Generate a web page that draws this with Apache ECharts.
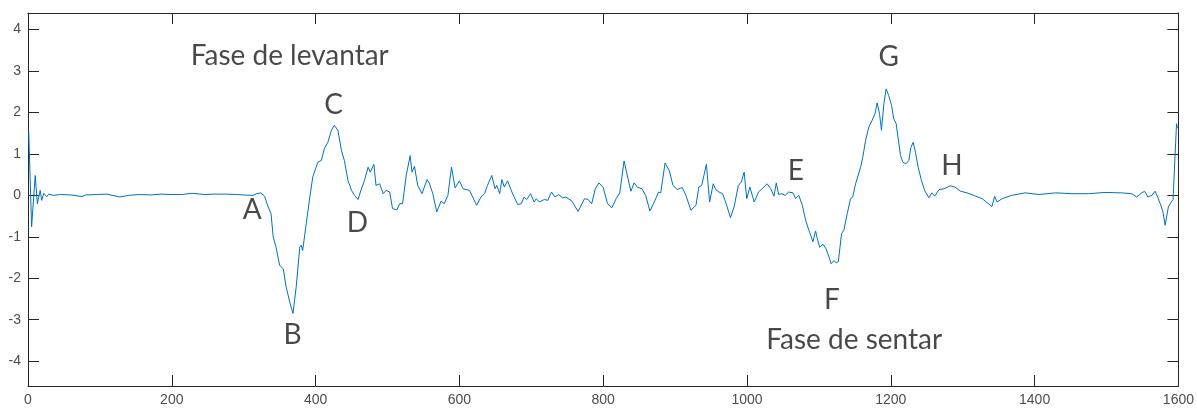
<!DOCTYPE html>
<html>
<head>
<meta charset="utf-8">
<script src="https://cdn.jsdelivr.net/npm/echarts@6/dist/echarts.min.js"></script>
<style>
html,body{margin:0;padding:0;background:#fff;}
#chart{width:1197px;height:410px;}
</style>
</head>
<body>
<div id="chart"></div>
<script>
// ---- data ----
const sampleX = [1,5,10,13,17,19,22,26,29,35,45,60,75,80,95,110,128,140,155,170,185,200,215,228,245,260,275,290,300,313,318,324,329,334,338,341,345,350,355,359,364,368.5,373,378,380,382,387,392,396,403,408,412,417,422,426,431,436,440,445,450,454,459,463,468,473,476,481,484,489,494,498,503,507,513,517,521,526,528,531.5,534,537.5,542,548,555,558,563,568.5,574.5,579,584,589,594,600,605,614,624,630,635,639,645,649.5,652,656,659,662.5,667,673,681,686,690,693.5,699,704,707,711,718,723,728,733,738,743.5,748,756.5,765,774,779,784,789,794,800,806,812,818,823,829,834,838.5,843,848,854,859,865,871,877,880,886,892,897,903,910,915,922,929,933,937,940,943.5,948,953,956.5,961,966,971,977,982,988,992,996,999.6,1004,1010,1016,1021,1028,1033,1037.5,1040.7,1044,1048,1053,1058,1064,1067.6,1072,1077,1081.5,1086,1091.7,1095.4,1097.7,1101,1105.6,1110,1114,1117,1121,1124,1127,1131.5,1134.7,1139.4,1144,1147,1151,1158,1161,1165,1169.4,1174,1178,1181,1184.3,1187,1190.3,1193.5,1197,1201,1204,1207.4,1210,1213.5,1216.7,1221,1225,1228,1231,1234.3,1238,1242.6,1247,1253,1257,1261,1267,1274,1283,1289,1297,1306,1318,1327,1335,1340.7,1344.4,1347.7,1355,1368,1387,1406,1429,1452,1475,1498,1521,1535,1542,1544.4,1549,1553,1557.4,1563,1567.6,1572,1578,1581.5,1586,1590,1592.5,1595.4,1597.4,1598.5];
const sampleY = [1.54,-0.76,0.48,-0.2,0.12,-0.12,0.05,-0.03,0.03,0.0,0.02,0.01,-0.03,0.01,0.02,0.03,-0.04,0.0,0.02,0.01,0.03,0.02,0.02,0.05,0.02,0.03,0.03,0.02,0.01,0.0,0.04,0.06,-0.02,-0.28,-0.44,-1.0,-1.25,-1.69,-1.77,-2.21,-2.57,-2.85,-2.21,-1.25,-1.2,-1.33,-0.68,-0.04,0.44,0.8,0.84,1.12,1.28,1.57,1.69,1.57,1.08,0.84,0.36,0.12,0.0,-0.1,0.12,0.36,0.68,0.56,0.75,0.24,0.28,0.04,0.12,0.08,-0.32,-0.35,-0.2,-0.2,0.48,0.52,0.96,0.56,0.7,0.24,0.04,0.38,0.3,0.04,-0.4,-0.14,-0.2,0.0,0.68,0.18,0.35,0.16,0.12,-0.24,-0.04,0.04,0.24,0.48,0.16,0.24,0.04,0.38,0.2,0.35,0.08,-0.22,-0.2,-0.04,-0.1,0.04,-0.16,-0.08,-0.16,-0.1,-0.12,0.08,-0.04,0.02,-0.06,-0.04,-0.14,-0.39,-0.08,-0.1,-0.2,0.16,0.3,0.19,-0.2,-0.3,-0.08,0.06,0.83,0.44,0.1,0.3,0.19,0.16,0.0,-0.38,-0.16,0.08,0.06,0.78,0.59,0.24,0.14,0.19,0.0,-0.36,-0.24,0.2,0.24,0.48,0.75,-0.16,0.28,0.14,0.08,0.04,-0.2,-0.54,-0.28,0.24,0.32,0.56,-0.08,0.2,-0.16,0.08,0.16,0.28,0.16,-0.02,0.3,0.02,0.04,0.0,0.08,0.06,-0.08,0.0,-0.24,-0.6,-0.84,-1.12,-0.86,-1.04,-1.25,-1.18,-1.29,-1.49,-1.65,-1.57,-1.63,-1.6,-0.92,-0.84,-0.44,-0.08,-0.04,0.28,0.68,0.92,1.33,1.65,1.81,1.97,2.23,1.97,1.57,2.21,2.57,2.41,2.17,1.85,1.73,1.4,0.96,0.8,0.76,0.84,1.16,1.28,1.04,0.68,0.36,0.12,-0.06,0.06,-0.02,0.14,0.16,0.23,0.2,0.1,0.06,-0.02,-0.08,-0.19,-0.27,-0.02,-0.16,-0.08,0.0,0.06,0.02,0.06,0.04,0.04,0.07,0.06,0.04,-0.04,-0.08,0.06,0.1,-0.04,0.0,0.1,-0.08,-0.36,-0.72,-0.28,-0.16,-0.1,1.0,1.73,1.62];

const xTicks = [0,200,400,600,800,1000,1200,1400,1600];
const yTicks = [-4,-3,-2,-1,0,1,2,3,4];

const annoText = ['Fase de levantar','A','B','C','D','E','F','G','H','Fase de sentar'];
const annoX = [364,312,368,425,458,1068,1118,1197,1285,1149];
const annoY = [3.37,-0.36,-3.37,2.17,-0.67,0.6,-2.53,3.33,0.72,-3.49];

// ---- chart ----
const lineData = sampleX.map((x,i)=>[x, sampleY[i]]);
const annoData = annoText.map((t,i)=>({name:t, value:[annoX[i], annoY[i]]}));

const axisColor = '#262626';
const labelColor = '#4d4d4d';
const labelFont = {fontFamily:'Liberation Sans, Arial, sans-serif', fontSize:14, color:labelColor};

const chart = echarts.init(document.getElementById('chart'), null, {renderer:'canvas'});
chart.setOption({
  animation:false,
  backgroundColor:'#ffffff',
  grid:{left:28, right:17, top:13, bottom:24, containLabel:false},
  xAxis:[{
    type:'value', min:0, max:1600, interval:200, position:'bottom',
    axisLine:{show:true, onZero:false, lineStyle:{color:axisColor, width:1}},
    axisTick:{show:true, inside:true, length:11, lineStyle:{color:axisColor}},
    axisLabel:Object.assign({show:true, margin:7, customValues:xTicks, formatter:v=>String(v)}, labelFont),
    splitLine:{show:false}
  },{
    type:'value', min:0, max:1600, interval:200, position:'top',
    axisLine:{show:true, onZero:false, lineStyle:{color:axisColor, width:1}},
    axisTick:{show:true, inside:true, length:11, lineStyle:{color:axisColor}},
    axisLabel:{show:false}, splitLine:{show:false}
  }],
  yAxis:[{
    type:'value', min:-4.6, max:4.4, position:'left',
    axisLine:{show:true, onZero:false, lineStyle:{color:axisColor, width:1}},
    axisTick:{show:true, inside:true, length:11, customValues:yTicks, lineStyle:{color:axisColor}},
    axisLabel:Object.assign({show:true, margin:7, customValues:yTicks, formatter:v=>String(v)}, labelFont),
    splitLine:{show:false}
  },{
    type:'value', min:-4.6, max:4.4, position:'right',
    axisLine:{show:true, onZero:false, lineStyle:{color:axisColor, width:1}},
    axisTick:{show:true, inside:true, length:11, customValues:yTicks, lineStyle:{color:axisColor}},
    axisLabel:{show:false}, splitLine:{show:false}
  }],
  series:[{
    type:'line', xAxisIndex:0, yAxisIndex:0, data:lineData,
    showSymbol:false, symbol:'none',
    lineStyle:{color:'#0072BD', width:1},
    silent:true
  },{
    type:'scatter', xAxisIndex:0, yAxisIndex:0, data:annoData,
    symbolSize:0, silent:true,
    label:{show:true, position:'inside', formatter:p=>p.name,
      fontFamily:'Lato, "Open Sans", sans-serif', fontSize:28, color:'#1a1a1a'}
  }]
});
</script>
</body>
</html>
